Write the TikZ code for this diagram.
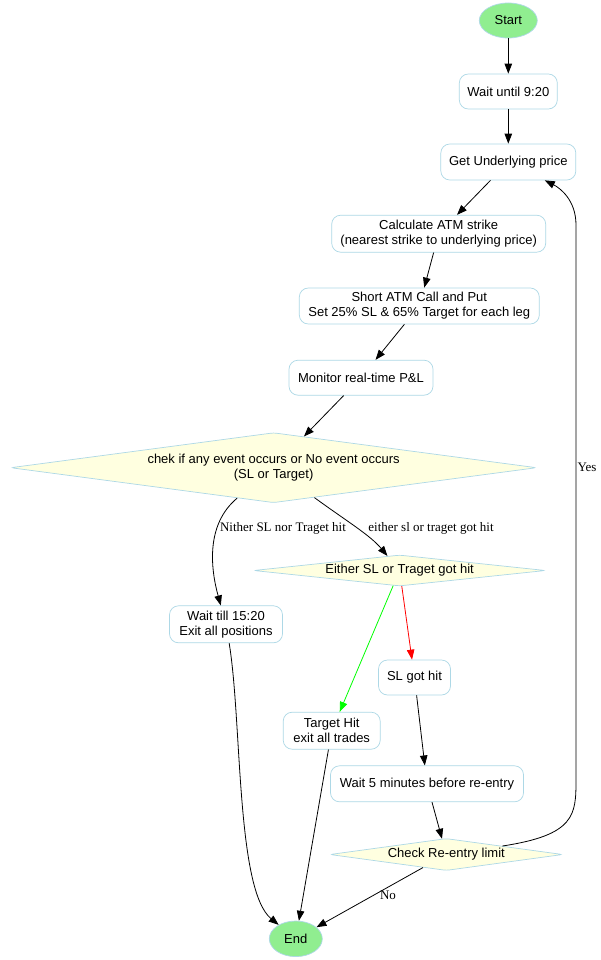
\documentclass[tikz,border=0pt]{standalone}
\usepackage{fontspec}
\setmainfont{Liberation Serif}
\newfontfamily\boxfont{Liberation Sans}
\usetikzlibrary{shapes.geometric,arrows.meta}
\definecolor{lblue}{HTML}{ADD8E6}
\definecolor{lyellow}{HTML}{FFFFE0}
\definecolor{lgreen}{HTML}{90EE90}
\definecolor{tgreen}{HTML}{00FF00}
\definecolor{tred}{HTML}{FF0000}

\begin{document}
\begin{tikzpicture}[x=1pt,y=-1pt,
  every node/.style={font=\boxfont\fontsize{13}{15}\selectfont, align=center, inner sep=0pt},
  stepbox/.style={draw=lblue, line width=0.7pt, fill=white, rounded corners=9pt, rectangle},
  termnode/.style={draw=lblue, line width=0.7pt, fill=lgreen, ellipse, minimum width=58pt, minimum height=35pt},
  decision/.style={draw=lblue, line width=0.7pt, fill=lyellow, diamond, rounded corners=3pt},
  arr/.style={draw=black, line width=0.8pt, -{Triangle[length=10pt,width=7.5pt]}},
  lbl/.style={font=\rmfamily\fontsize{13}{15}\selectfont}]

\fill[white] (0,0) rectangle (600,960);
\useasboundingbox (0,0) rectangle (600,960);

% nodes
\node[termnode] (start) at (508.3,20.5) {Start};
\node[stepbox, minimum width=98pt, minimum height=35pt] (w920) at (508.3,91.5) {Wait until 9:20};
\node[stepbox, minimum width=135pt, minimum height=36pt] (getu) at (508.3,162) {Get Underlying price};
\node[stepbox, minimum width=214pt, minimum height=37pt] (calc) at (438.7,233.7) {Calculate ATM strike\\(nearest strike to underlying price)};
\node[stepbox, minimum width=240pt, minimum height=36pt] (short) at (419.3,306) {Short ATM Call and Put\\Set 25\% SL \& 65\% Target for each leg};
\node[stepbox, minimum width=144pt, minimum height=35pt] (mon) at (361,377.7) {Monitor real-time P\&L};
\node[decision, minimum width=526pt, minimum height=70pt, shape aspect=7.5] (big) at (273.6,467.7) {chek if any event occurs or No event occurs\\(SL or Target)};
\node[decision, minimum width=292pt, minimum height=31pt, shape aspect=9.5] (either) at (399.6,570.5) {Either SL or Traget got hit};
\node[stepbox, minimum width=113pt, minimum height=37pt] (w1520) at (226,624.3) {Wait till 15:20\\Exit all positions};
\node[stepbox, minimum width=72pt, minimum height=35pt] (slhit) at (414.5,677.5) {SL got hit};
\node[stepbox, minimum width=97pt, minimum height=37pt] (tgt) at (331.7,730.7) {Target Hit\\exit all trades};
\node[stepbox, minimum width=193pt, minimum height=36pt] (wait5) at (427,783.8) {Wait 5 minutes before re-entry};
\node[decision, minimum width=233pt, minimum height=32pt, shape aspect=7.5] (check) at (446.3,854.5) {Check Re-entry limit};
\node[termnode, minimum width=53pt, minimum height=35.6pt] (end) at (295.8,938.8) {End};

% connectors
\draw[arr] (start) -- (w920);
\draw[arr] (w920) -- (getu);
\draw[arr] (getu) -- (calc);
\draw[arr] (calc) -- (short);
\draw[arr] (short) -- (mon);
\draw[arr] (mon) -- (big);
\draw[arr] (big) .. controls (345,520) and (370,535) .. (either);
\draw[arr] (big) .. controls (205,525) and (211,570) .. (w1520);
\draw[arr, draw=tgreen, -{Triangle[length=10pt,width=7.5pt,fill=tgreen]}] (either) -- (tgt);
\draw[arr, draw=tred, -{Triangle[length=10pt,width=7.5pt,fill=tred]}] (either) -- (slhit);
\draw[arr] (slhit) -- (wait5);
\draw[arr] (wait5) -- (check);
\draw[arr] (check) -- (end);
\draw[arr] (tgt) -- (end);
\draw[arr] (w1520) .. controls (242,720) and (236,890) .. (end);
\draw[arr] (check) .. controls (575,835) and (576,815) .. (576,780) -- (576,225)
  .. controls (576,200) and (560,188) .. (getu);

% edge labels
\node[lbl] (lnone) at (283,528) {Nither SL nor Traget hit};
\node[lbl] (lhit) at (431,528) {either sl or traget got hit};
\node[lbl] (lyes) at (587,467) {Yes};
\node[lbl] (lno) at (388,895) {No};
\end{tikzpicture}
\end{document}
